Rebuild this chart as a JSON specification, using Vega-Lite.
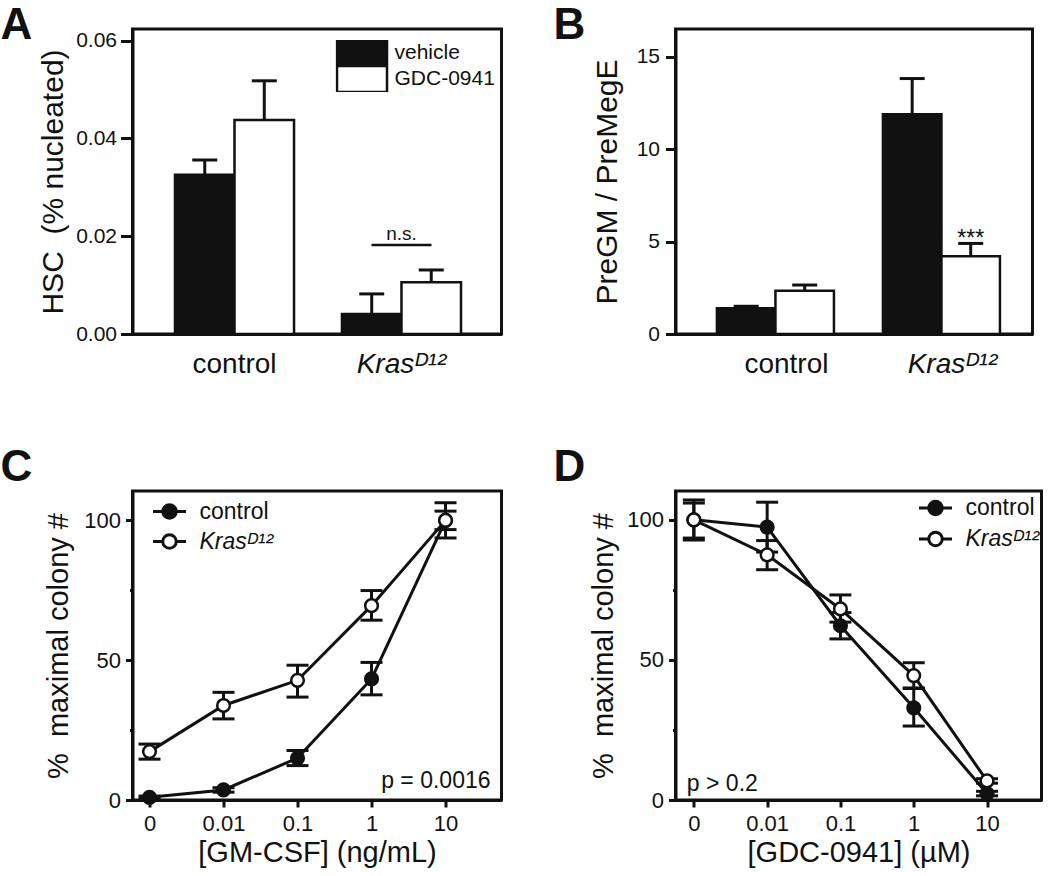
{
  "$schema": "https://vega.github.io/schema/vega-lite/v6.json",
  "background": "white",
  "padding": {"left": -1.5, "top": 2, "right": 0, "bottom": 0},
  "columns": 2,
  "bounds": "flush",
  "align": "each",
  "spacing": {"row": 157, "column": 174},
  "resolve": {"scale": {"fill": "independent", "xOffset": "independent"}, "legend": {"fill": "independent"}},
  "config": {
    "font": "Liberation Sans",
    "view": {"stroke": "#111", "strokeWidth": 3},
    "axis": {"domainColor": "#111", "domainWidth": 3, "tickColor": "#111", "tickWidth": 3, "labelColor": "#111", "titleColor": "#111", "grid": false, "titleFontWeight": "normal", "labelFont": "Liberation Sans", "titleFont": "Liberation Sans"},
    "legend": {"labelFont": "Liberation Sans", "labelColor": "#111"},
    "title": {"font": "Liberation Sans", "color": "#111"}
  },
  "concat": [
    {
      "width": 369, "height": 305,
      "title": {"text": "A", "anchor": "start", "frame": "group", "fontSize": 44, "fontWeight": "bold", "baseline": "alphabetic", "offset": 0, "dx": -132, "dy": 54},
      "data": {"values": [
        {"group": "control", "treat": "vehicle", "value": 0.0326, "hi": 0.0356},
        {"group": "control", "treat": "GDC-0941", "value": 0.0438, "hi": 0.0518},
        {"group": "Kras", "treat": "vehicle", "value": 0.0041, "hi": 0.0082},
        {"group": "Kras", "treat": "GDC-0941", "value": 0.0106, "hi": 0.0131}
      ]},
      "layer": [
        {
          "mark": {"type": "bar", "stroke": "#111", "strokeWidth": 2.5},
          "encoding": {
            "x": {"field": "group", "type": "nominal", "scale": {"type": "band", "domain": ["control", "Kras"], "paddingInner": 0.287, "paddingOuter": 0.2485, "align": 0.512},
                  "axis": {"title": null, "ticks": false, "labelAngle": 0, "labelFontSize": 28, "labelPadding": 16, "labelExpr": "datum.value == 'Kras' ? 'Kras\u1d30\u00b9\u00b2' : datum.label", "labelFontStyle": {"condition": {"test": "datum.value == 'Kras'", "value": "italic"}, "value": "normal"}}},
            "xOffset": {"field": "treat", "type": "nominal", "scale": {"domain": ["vehicle", "GDC-0941"], "paddingInner": 0, "paddingOuter": 0}},
            "y": {"field": "value", "type": "quantitative", "title": "HSC\u00a0\u00a0(% nucleated)", "scale": {"domain": [0, 0.0624], "nice": false},
                  "axis": {"values": [0, 0.02, 0.04, 0.06], "format": ".2f", "tickSize": 12, "labelPadding": 4, "labelFontSize": 21, "titleFontSize": 30, "titlePadding": 7}},
            "fill": {"field": "treat", "type": "nominal", "scale": {"domain": ["vehicle", "GDC-0941"], "range": ["#111", "white"]},
                     "legend": {"orient": "none", "legendX": 203, "legendY": 11, "title": null, "symbolType": "M-1,-0.52H1V0.52H-1Z", "symbolSize": 2500, "symbolStrokeColor": "#111", "symbolStrokeWidth": 2.5, "symbolOpacity": 1, "labelFontSize": 21, "labelOffset": 6, "rowPadding": 0, "clipHeight": 26, "padding": 0}}
          }
        },
        {
          "mark": {"type": "rule", "strokeWidth": 3, "color": "#111"},
          "encoding": {
            "x": {"field": "group", "type": "nominal"},
            "xOffset": {"field": "treat", "type": "nominal"},
            "y": {"field": "value", "type": "quantitative", "title": "HSC\u00a0\u00a0(% nucleated)"},
            "y2": {"field": "hi"}
          }
        },
        {
          "mark": {"type": "tick", "orient": "horizontal", "size": 25, "thickness": 3, "color": "#111", "opacity": 1},
          "encoding": {
            "x": {"field": "group", "type": "nominal"},
            "xOffset": {"field": "treat", "type": "nominal"},
            "y": {"field": "hi", "type": "quantitative", "title": "HSC\u00a0\u00a0(% nucleated)"}
          }
        },
        {
          "data": {"values": [{"note": "n.s."}]},
          "mark": {"type": "tick", "orient": "horizontal", "size": 60, "thickness": 2.5, "color": "#111", "opacity": 1},
          "encoding": {
            "x": {"datum": "Kras", "type": "nominal"},
            "y": {"datum": 0.0182, "type": "quantitative", "title": "HSC\u00a0\u00a0(% nucleated)"}
          }
        },
        {
          "data": {"values": [{"note": "n.s."}]},
          "mark": {"type": "text", "fontSize": 19, "baseline": "alphabetic", "color": "#111"},
          "encoding": {
            "x": {"datum": "Kras", "type": "nominal"},
            "y": {"datum": 0.0193, "type": "quantitative", "title": "HSC\u00a0\u00a0(% nucleated)"},
            "text": {"field": "note"}
          }
        }
      ]
    },
    {
      "width": 357, "height": 305,
      "title": {"text": "B", "anchor": "start", "frame": "group", "fontSize": 44, "fontWeight": "bold", "baseline": "alphabetic", "offset": 0, "dx": -122, "dy": 54},
      "data": {"values": [
        {"group": "control", "treat": "vehicle", "value": 1.39, "hi": 1.5},
        {"group": "control", "treat": "GDC-0941", "value": 2.34, "hi": 2.65},
        {"group": "Kras", "treat": "vehicle", "value": 11.89, "hi": 13.82},
        {"group": "Kras", "treat": "GDC-0941", "value": 4.2, "hi": 4.9}
      ]},
      "layer": [
        {
          "mark": {"type": "bar", "stroke": "#111", "strokeWidth": 2.5},
          "encoding": {
            "x": {"field": "group", "type": "nominal", "scale": {"type": "band", "domain": ["control", "Kras"], "paddingInner": 0.295, "paddingOuter": 0.2228, "align": 0.56},
                  "axis": {"title": null, "ticks": false, "labelAngle": 0, "labelFontSize": 28, "labelPadding": 16, "labelOffset": 11, "labelExpr": "datum.value == 'Kras' ? 'Kras\u1d30\u00b9\u00b2' : datum.label", "labelFontStyle": {"condition": {"test": "datum.value == 'Kras'", "value": "italic"}, "value": "normal"}}},
            "xOffset": {"field": "treat", "type": "nominal", "scale": {"domain": ["vehicle", "GDC-0941"], "paddingInner": 0, "paddingOuter": 0}},
            "y": {"field": "value", "type": "quantitative", "title": "PreGM / PreMegE", "scale": {"domain": [0, 16.5], "nice": false},
                  "axis": {"values": [0, 5, 10, 15], "tickSize": 10, "labelPadding": 6, "labelFontSize": 21, "titleFontSize": 30, "titlePadding": 14}},
            "fill": {"field": "treat", "type": "nominal", "scale": {"domain": ["vehicle", "GDC-0941"], "range": ["#111", "white"]}, "legend": null}
          }
        },
        {
          "mark": {"type": "rule", "strokeWidth": 3, "color": "#111"},
          "encoding": {
            "x": {"field": "group", "type": "nominal"},
            "xOffset": {"field": "treat", "type": "nominal"},
            "y": {"field": "value", "type": "quantitative", "title": "PreGM / PreMegE"},
            "y2": {"field": "hi"}
          }
        },
        {
          "mark": {"type": "tick", "orient": "horizontal", "size": 25, "thickness": 3, "color": "#111", "opacity": 1},
          "encoding": {
            "x": {"field": "group", "type": "nominal"},
            "xOffset": {"field": "treat", "type": "nominal"},
            "y": {"field": "hi", "type": "quantitative", "title": "PreGM / PreMegE"}
          }
        },
        {
          "data": {"values": [{"group": "Kras", "treat": "GDC-0941", "note": "***"}]},
          "mark": {"type": "text", "fontSize": 23, "baseline": "alphabetic", "color": "#111"},
          "encoding": {
            "x": {"field": "group", "type": "nominal"},
            "xOffset": {"field": "treat", "type": "nominal"},
            "y": {"datum": 4.75, "type": "quantitative", "title": "PreGM / PreMegE"},
            "text": {"field": "note"}
          }
        }
      ]
    },
    {
      "width": 369, "height": 309,
      "title": {"text": "C", "anchor": "start", "frame": "group", "fontSize": 44, "fontWeight": "bold", "baseline": "alphabetic", "offset": 0, "dx": -132, "dy": 34},
      "data": {"values": [
        {"dose": "0", "genotype": "control", "value": 0.95, "lo": 0.5, "hi": 1.4},
        {"dose": "0.01", "genotype": "control", "value": 3.6, "lo": 2.8, "hi": 4.4},
        {"dose": "0.1", "genotype": "control", "value": 15.0, "lo": 12.3, "hi": 17.7},
        {"dose": "1", "genotype": "control", "value": 43.3, "lo": 37.6, "hi": 49.2},
        {"dose": "10", "genotype": "control", "value": 100, "lo": 93.7, "hi": 106.3},
        {"dose": "0", "genotype": "Kras", "value": 17.3, "lo": 14.6, "hi": 20.0},
        {"dose": "0.01", "genotype": "Kras", "value": 33.8, "lo": 29.0, "hi": 38.5},
        {"dose": "0.1", "genotype": "Kras", "value": 42.8, "lo": 36.8, "hi": 48.2},
        {"dose": "1", "genotype": "Kras", "value": 69.5, "lo": 64.3, "hi": 74.9},
        {"dose": "10", "genotype": "Kras", "value": 100, "lo": 96.7, "hi": 103.3}
      ]},
      "layer": [
        {
          "mark": {"type": "line", "strokeWidth": 3, "color": "#111"},
          "encoding": {
            "x": {"field": "dose", "type": "nominal", "sort": null, "scale": {"type": "point", "domain": ["0", "0.01", "0.1", "1", "10"], "padding": 0.493, "align": 0.233},
                  "axis": {"title": "[GM-CSF] (ng/mL)", "labelAngle": 0, "tickSize": 7, "labelFontSize": 22, "labelPadding": 6, "titleFontSize": 29, "titlePadding": 4}},
            "y": {"field": "value", "type": "quantitative", "title": "%\u00a0\u00a0maximal colony #", "scale": {"domain": [0, 110.5], "nice": false},
                  "axis": {"values": [0, 25, 50, 75, 100], "labelExpr": "datum.value % 50 == 0 ? datum.label : ''", "tickSize": {"condition": {"test": "datum.value % 50 != 0", "value": 3}, "value": 7}, "labelFontSize": 22, "labelPadding": 5, "titleFontSize": 29, "titlePadding": 10}},
            "detail": {"field": "genotype", "type": "nominal"}
          }
        },
        {
          "mark": {"type": "rule", "strokeWidth": 3, "color": "#111"},
          "encoding": {
            "x": {"field": "dose", "type": "nominal"},
            "y": {"field": "lo", "type": "quantitative", "title": "%\u00a0\u00a0maximal colony #"},
            "y2": {"field": "hi"}
          }
        },
        {
          "mark": {"type": "tick", "orient": "horizontal", "size": 22, "thickness": 3, "color": "#111", "opacity": 1},
          "encoding": {
            "x": {"field": "dose", "type": "nominal"},
            "y": {"field": "lo", "type": "quantitative", "title": "%\u00a0\u00a0maximal colony #"}
          }
        },
        {
          "mark": {"type": "tick", "orient": "horizontal", "size": 22, "thickness": 3, "color": "#111", "opacity": 1},
          "encoding": {
            "x": {"field": "dose", "type": "nominal"},
            "y": {"field": "hi", "type": "quantitative", "title": "%\u00a0\u00a0maximal colony #"}
          }
        },
        {
          "mark": {"type": "point", "shape": "circle", "filled": true, "size": 160, "stroke": "#111", "strokeWidth": 2.5, "opacity": 1},
          "encoding": {
            "x": {"field": "dose", "type": "nominal"},
            "y": {"field": "value", "type": "quantitative", "title": "%\u00a0\u00a0maximal colony #"},
            "fill": {"field": "genotype", "type": "nominal", "scale": {"domain": ["control", "Kras"], "range": ["#111", "white"]},
                     "legend": {"orient": "none", "legendX": 19, "legendY": 5.5, "title": null, "symbolType": "M-1,0H-0.41M0.41,0H1M-0.41,0A0.41,0.41 0 1,1 0.41,0A0.41,0.41 0 1,1 -0.41,0Z", "symbolSize": 1089, "symbolStrokeColor": "#111", "symbolStrokeWidth": 3, "symbolOpacity": 1, "labelFontSize": 23, "labelOffset": 12, "rowPadding": 0, "clipHeight": 30, "padding": 0,
                                "labelExpr": "datum.value == 'Kras' ? 'Kras\u1d30\u00b9\u00b2' : datum.label",
                                "encode": {"labels": {"update": {"fontStyle": {"signal": "datum.value == 'Kras' ? 'italic' : 'normal'"}}}}}}
          }
        },
        {
          "data": {"values": [{"note": "p = 0.0016"}]},
          "mark": {"type": "text", "align": "right", "baseline": "middle", "fontSize": 23, "dx": 45, "color": "#111"},
          "encoding": {
            "x": {"datum": "10", "type": "nominal"},
            "y": {"datum": 6.9, "type": "quantitative", "title": "%\u00a0\u00a0maximal colony #"},
            "text": {"field": "note"}
          }
        }
      ]
    },
    {
      "width": 366, "height": 309,
      "title": {"text": "D", "anchor": "start", "frame": "group", "fontSize": 44, "fontWeight": "bold", "baseline": "alphabetic", "offset": 0, "dx": -122, "dy": 34},
      "data": {"values": [
        {"dose": "0", "genotype": "control", "value": 100, "lo": 92.8, "hi": 107.1},
        {"dose": "0.01", "genotype": "control", "value": 97.4, "lo": 88.5, "hi": 106.3},
        {"dose": "0.1", "genotype": "control", "value": 62.2, "lo": 57.5, "hi": 66.9},
        {"dose": "1", "genotype": "control", "value": 32.9, "lo": 26.4, "hi": 40.0},
        {"dose": "10", "genotype": "control", "value": 2.3, "lo": 1.5, "hi": 3.1},
        {"dose": "0", "genotype": "Kras", "value": 100, "lo": 93.5, "hi": 106.0},
        {"dose": "0.01", "genotype": "Kras", "value": 87.5, "lo": 82.2, "hi": 92.6},
        {"dose": "0.1", "genotype": "Kras", "value": 68.2, "lo": 63.5, "hi": 73.2},
        {"dose": "1", "genotype": "Kras", "value": 44.4, "lo": 39.8, "hi": 49.0},
        {"dose": "10", "genotype": "Kras", "value": 6.8, "lo": 6.0, "hi": 7.6}
      ]},
      "layer": [
        {
          "mark": {"type": "line", "strokeWidth": 3, "color": "#111"},
          "encoding": {
            "x": {"field": "dose", "type": "nominal", "sort": null, "scale": {"type": "point", "domain": ["0", "0.01", "0.1", "1", "10"], "padding": 0.4966, "align": 0.252},
                  "axis": {"title": "[GDC-0941] (\u00b5M)", "labelAngle": 0, "tickSize": 7, "labelFontSize": 22, "labelPadding": 6, "titleFontSize": 29, "titlePadding": 4}},
            "y": {"field": "value", "type": "quantitative", "title": "%\u00a0\u00a0maximal colony #", "scale": {"domain": [0, 110.3], "nice": false},
                  "axis": {"values": [0, 25, 50, 75, 100], "labelExpr": "datum.value % 50 == 0 ? datum.label : ''", "tickSize": {"condition": {"test": "datum.value % 50 != 0", "value": 3}, "value": 7}, "labelFontSize": 22, "labelPadding": 5, "titleFontSize": 29, "titlePadding": 8}},
            "detail": {"field": "genotype", "type": "nominal"}
          }
        },
        {
          "mark": {"type": "rule", "strokeWidth": 3, "color": "#111"},
          "encoding": {
            "x": {"field": "dose", "type": "nominal"},
            "y": {"field": "lo", "type": "quantitative", "title": "%\u00a0\u00a0maximal colony #"},
            "y2": {"field": "hi"}
          }
        },
        {
          "mark": {"type": "tick", "orient": "horizontal", "size": 22, "thickness": 3, "color": "#111", "opacity": 1},
          "encoding": {
            "x": {"field": "dose", "type": "nominal"},
            "y": {"field": "lo", "type": "quantitative", "title": "%\u00a0\u00a0maximal colony #"}
          }
        },
        {
          "mark": {"type": "tick", "orient": "horizontal", "size": 22, "thickness": 3, "color": "#111", "opacity": 1},
          "encoding": {
            "x": {"field": "dose", "type": "nominal"},
            "y": {"field": "hi", "type": "quantitative", "title": "%\u00a0\u00a0maximal colony #"}
          }
        },
        {
          "mark": {"type": "point", "shape": "circle", "filled": true, "size": 160, "stroke": "#111", "strokeWidth": 2.5, "opacity": 1},
          "encoding": {
            "x": {"field": "dose", "type": "nominal"},
            "y": {"field": "value", "type": "quantitative", "title": "%\u00a0\u00a0maximal colony #"},
            "fill": {"field": "genotype", "type": "nominal", "scale": {"domain": ["control", "Kras"], "range": ["#111", "white"]},
                     "legend": {"orient": "none", "legendX": 242, "legendY": 1.5, "title": null, "symbolType": "M-1,0H-0.41M0.41,0H1M-0.41,0A0.41,0.41 0 1,1 0.41,0A0.41,0.41 0 1,1 -0.41,0Z", "symbolSize": 1089, "symbolStrokeColor": "#111", "symbolStrokeWidth": 3, "symbolOpacity": 1, "labelFontSize": 23, "labelOffset": 12, "rowPadding": 0, "clipHeight": 31, "padding": 0,
                                "labelExpr": "datum.value == 'Kras' ? 'Kras\u1d30\u00b9\u00b2' : datum.label",
                                "encode": {"labels": {"update": {"fontStyle": {"signal": "datum.value == 'Kras' ? 'italic' : 'normal'"}}}}}}
          }
        },
        {
          "data": {"values": [{"note": "p > 0.2"}]},
          "mark": {"type": "text", "align": "left", "baseline": "middle", "fontSize": 23, "dx": -7, "color": "#111"},
          "encoding": {
            "x": {"datum": "0", "type": "nominal"},
            "y": {"datum": 5.7, "type": "quantitative", "title": "%\u00a0\u00a0maximal colony #"},
            "text": {"field": "note"}
          }
        }
      ]
    }
  ]
}
